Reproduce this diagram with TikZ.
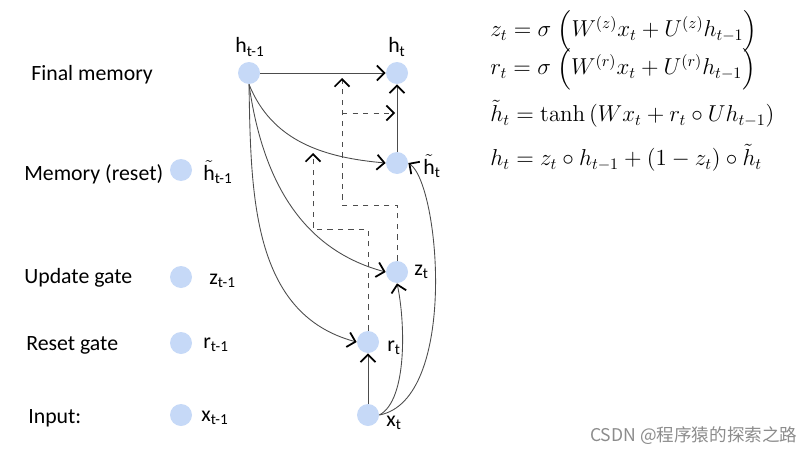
\documentclass[tikz,border=0pt]{standalone}
\usepackage{amsmath}
\usepackage[no-math]{fontspec}
\setmainfont{Carlito}
\newfontfamily\cjk{Noto Sans CJK SC}
\usetikzlibrary{arrows.meta}
\definecolor{cellblue}{HTML}{C6D9F7}
\newcommand{\tildeh}{$\tilde{\text{h}}$}
\newcommand{\eqbox}[1]{\scalebox{0.91}{\Large$#1$}}
\tikzset{
  unit/.style={circle, fill=cellblue, minimum size=0.44cm, inner sep=0pt},
  lbl/.style={font=\fontsize{12.4}{14}\selectfont, inner sep=0pt},
  rowname/.style={font=\fontsize{12.4}{14}\selectfont, anchor=west, inner sep=0pt},
  eqn/.style={anchor=west, inner sep=0pt},
  flow/.style={draw=black!70, line width=0.5pt, -{Straight Barb[length=1.5mm, width=3mm, line width=1pt, black]}},
  gate/.style={flow, dashed}
}
\begin{document}
\begin{tikzpicture}[x=0.02cm, y=-0.02cm]
\useasboundingbox (0,0) rectangle (800,453);
% row names
\node[rowname] (nfinal) at (31,75) {Final memory};
\node[rowname] (nmem) at (24,174) {Memory (reset)};
\node[rowname] (nupd) at (24,278) {Update gate};
\node[rowname] (nres) at (26,345) {Reset gate};
\node[rowname] (ninp) at (28,418) {Input:};
% step t-1
\node[unit] (hp) at (249,73) {};
\node[unit] (htp) at (181,170) {};
\node[unit] (zp) at (181,277) {};
\node[unit] (rp) at (181,343) {};
\node[unit] (xp) at (181,415) {};
\node[lbl] (lhp) at (250,47) {h\textsubscript{t-1}};
\node[lbl, anchor=west] (lhtp) at (203,172) {\tildeh\textsubscript{t-1}};
\node[lbl, anchor=west] (lzp) at (209,281) {z\textsubscript{t-1}};
\node[lbl, anchor=west] (lrp) at (203,345) {r\textsubscript{t-1}};
\node[lbl, anchor=west] (lxp) at (201,418) {x\textsubscript{t-1}};
% step t
\node[unit] (h) at (397,73) {};
\node[unit] (ht) at (397,163) {};
\node[unit] (z) at (397,272) {};
\node[unit] (r) at (368,342) {};
\node[unit] (x) at (368,415) {};
\node[lbl] (lh) at (397,47) {h\textsubscript{t}};
\node[lbl, anchor=west] (lht) at (423,166) {\tildeh\textsubscript{t}};
\node[lbl, anchor=west] (lz) at (414,272) {z\textsubscript{t}};
\node[lbl, anchor=west] (lr) at (387,348) {r\textsubscript{t}};
\node[lbl, anchor=west] (lx) at (386,423) {x\textsubscript{t}};
% gate corners
\coordinate (zc) at (342,205);
\coordinate (gz) at (342,78);
\coordinate (zs) at (342,113);
\coordinate (gh) at (395,113);
\coordinate (rc) at (313,229);
\coordinate (gr) at (313,153);
% connections
\draw[flow] (hp) -- (h);
\draw[flow] (hp.south) to[out=-68, in=175] (ht.west);
\draw[flow] (hp.south) to[out=-82, in=165] (z.west);
\draw[flow] (hp.south) to[out=-89, in=165] (r.west);
\draw[flow] (ht) -- (h);
\draw[flow] (x) -- (r);
\draw[flow] (x.east) .. controls (408,400) and (405,320) .. (z.south);
\draw[flow] (x.east) .. controls (458,400) and (440,185) .. (ht.east);
\draw[gate] (z.north) |- (zc) -- (gz);
\draw[gate] (zs) -- (gh);
\draw[gate] (r.north) |- (rc) -- (gr);
% equations
\node[eqn] (eqz) at (490,31) {\eqbox{z_t = \sigma\;\Bigl(W^{(z)}x_t + U^{(z)}h_{t-1}\Bigr)}};
\node[eqn] (eqr) at (490,69) {\eqbox{r_t = \sigma\;\Bigl(W^{(r)}x_t + U^{(r)}h_{t-1}\Bigr)}};
\node[eqn] (eqh) at (490,114) {\eqbox{\tilde{h}_t = \tanh\left(Wx_t + r_t\circ Uh_{t-1}\right)}};
\node[eqn] (eqo) at (490,158) {\eqbox{h_t = z_t\circ h_{t-1} + (1-z_t)\circ\tilde{h}_t}};
\node[anchor=west, text=black!45, font=\cjk\fontsize{10}{12}\selectfont] (mark) at (584,436) {CSDN @程序猿的探索之路};
\end{tikzpicture}
\end{document}
